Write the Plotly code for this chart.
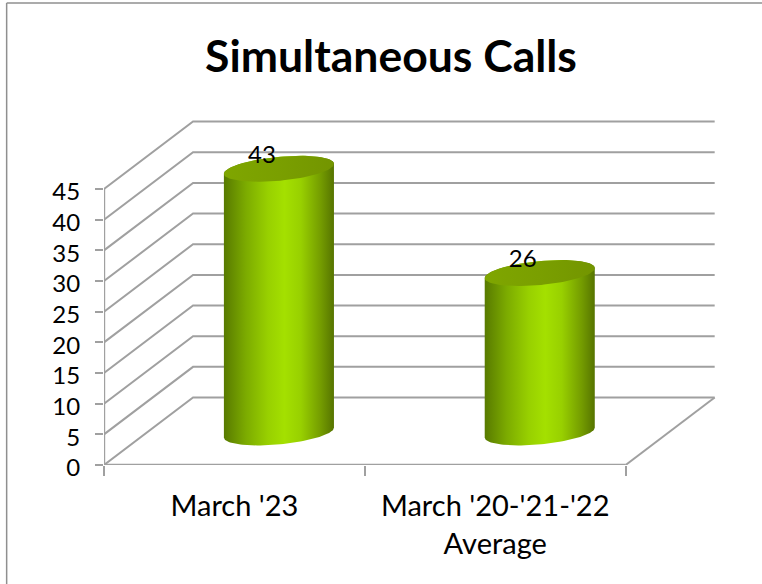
import numpy as np
import plotly.graph_objects as go

title = "Simultaneous Calls"
categories = ["March '23", "March '20-'21-'22<br>Average"]
values = [43, 26]
y_ticks = [0, 5, 10, 15, 20, 25, 30, 35, 40, 45]

W, H = 762, 584
LEFT, BOTTOM_PX = 104.3, 465.0
UNIT_X, UNIT_Y = 260.7, 6.133   # pixels per category / per value
DEPTH_X, DEPTH_Y = 89 / UNIT_X, 11.0
X0, X1 = -0.5, 1.5
GRID = "#a0a0a0"
FONT = "Lato, Open Sans, sans-serif"

x_max = X0 + (W - LEFT) / UNIT_X
y_max = (BOTTOM_PX - 100) / UNIT_Y

fig = go.Figure()


def line(xs, ys, width=2, color=GRID):
    fig.add_trace(go.Scatter(x=xs, y=ys, mode="lines", cliponaxis=False, showlegend=False,
                             hoverinfo="skip", line=dict(color=color, width=width)))


# walls and floor
for v in y_ticks:
    line([X0, X0 + DEPTH_X, X1 + DEPTH_X], [v, v + DEPTH_Y, v + DEPTH_Y])
line([X1, X1 + DEPTH_X], [0, DEPTH_Y])
line([X0, X1], [0, 0], 2.4)
line([X0, X0], [0, max(y_ticks)], 2.4)

# cylinders
t1 = np.linspace(0, np.pi, 60)
t2 = np.linspace(np.pi, 2 * np.pi, 60)
R_X, R_Y, SHEAR = 55 / UNIT_X, 12 / UNIT_Y, 5 / UNIT_Y
OFF_X, OFF_Y = DEPTH_X / 2, 32.5 / UNIT_Y
BODY = [[0, "#587a00"], [0.2, "#7cab00"], [0.4, "#98d000"], [0.55, "#a4e000"],
        [0.7, "#98d000"], [0.88, "#749c00"], [1, "#567400"]]
TOP = [[0, "#7fa600"], [0.5, "#7a9f00"], [1, "#739500"]]


def ell(cx, cy, t):
    return cx + R_X * np.cos(t), cy - R_Y * np.sin(t) + SHEAR * np.cos(t)


for i, v in enumerate(values):
    cx = i + OFF_X
    base, top = OFF_Y, OFF_Y + v
    xb, yb = ell(cx, base, t1)
    xt, yt = ell(cx, top, t2)
    fig.add_trace(go.Scatter(x=np.r_[xb, xt], y=np.r_[yb, yt], mode="lines", fill="toself",
                             line=dict(width=0), showlegend=False, hoverinfo="skip",
                             fillgradient=dict(type="horizontal", colorscale=BODY)))
    t = np.r_[t1, t2]
    xe, ye = ell(cx, top, t)
    fig.add_trace(go.Scatter(x=xe, y=ye, mode="lines", fill="toself",
                             line=dict(width=0), showlegend=False, hoverinfo="skip",
                             fillgradient=dict(type="horizontal", colorscale=TOP)))
    fig.add_trace(go.Scatter(x=[cx - 17 / UNIT_X], y=[top + 12 / UNIT_Y], mode="text",
                             text=[str(v)], showlegend=False, hoverinfo="skip", cliponaxis=False,
                             textposition="middle center",
                             textfont=dict(family=FONT, size=24, color="#000000")))

PLOT_H = BOTTOM_PX - 100
PLOT_W = W - LEFT
BORDER_X = (7 - LEFT) / PLOT_W
BORDER_Y = 1 + 97 / PLOT_H

fig.update_layout(
    width=W, height=H, autosize=False, paper_bgcolor="white", plot_bgcolor="rgba(0,0,0,0)",
    margin=dict(l=LEFT, r=0, t=100, b=H - BOTTOM_PX, pad=0),
    font=dict(family=FONT, color="#000000"),
    title=dict(text=f"<b>{title}</b>", x=391 / W, xanchor="center", y=1 - 56 / H, yanchor="middle",
               font=dict(family=FONT, size=44.5, color="#000000")),
    xaxis=dict(range=[X0, x_max], showgrid=False, zeroline=False, showline=False,
               tickmode="array", tickvals=[0, 1], ticktext=categories, ticks="", ticklen=0,
               tickfont=dict(family=FONT, size=29), ticklabelstandoff=21, fixedrange=True,
               minor=dict(tickmode="array", tickvals=[-0.5, 0.5, 1.5], ticks="outside", ticklen=10,
                          tickwidth=1.8, tickcolor=GRID, showgrid=False)),
    yaxis=dict(range=[0, y_max], showgrid=False, zeroline=False, showline=False,
               tickmode="array", tickvals=y_ticks, ticks="outside", ticklen=8, tickwidth=1.8,
               tickcolor=GRID, tickfont=dict(family=FONT, size=24), ticklabelstandoff=10,
               ticklabelshift=3, fixedrange=True),
    shapes=[
        dict(type="line", xref="paper", yref="paper", x0=BORDER_X, x1=1.0, y0=BORDER_Y, y1=BORDER_Y,
             line=dict(color="#8f8f8f", width=1.5)),
        dict(type="line", xref="paper", yref="paper", x0=BORDER_X, x1=BORDER_X,
             y0=-(H - BOTTOM_PX) / PLOT_H, y1=BORDER_Y, line=dict(color="#8f8f8f", width=1.5)),
    ],
)

fig.write_html("out.html", config={"displayModeBar": False},
               post_script="document.body.style.margin='0';document.documentElement.style.overflow='hidden';")
